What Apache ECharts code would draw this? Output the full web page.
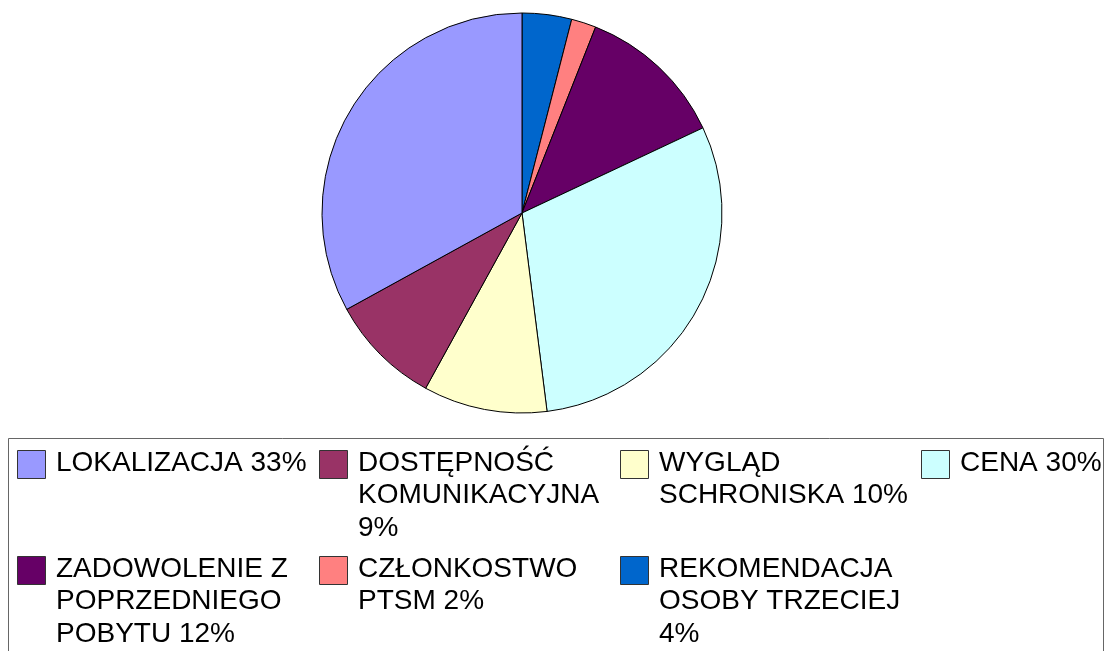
<!DOCTYPE html>
<html>
<head>
<meta charset="utf-8">
<script src="https://cdn.jsdelivr.net/npm/echarts@6/dist/echarts.min.js"></script>
<style>
  html, body { margin: 0; padding: 0; background: #fff; }
  #main { width: 1112px; height: 651px; }
</style>
</head>
<body>
<div id="main"></div>
<script>
// legend order (as in the reference)
const categories = [
  'LOKALIZACJA',
  'DOSTĘPNOŚĆ KOMUNIKACYJNA',
  'WYGLĄD SCHRONISKA',
  'CENA',
  'ZADOWOLENIE Z POPRZEDNIEGO POBYTU',
  'CZŁONKOSTWO PTSM',
  'REKOMENDACJA OSOBY TRZECIEJ'
];
const percents = [33, 9, 10, 30, 12, 2, 4];
const colors = ['#9999FF', '#993366', '#FFFFCC', '#CCFFFF', '#660066', '#FF8080', '#0066CC'];

const chart = echarts.init(document.getElementById('main'));

// pie goes clockwise from 12 o'clock, last legend item first
const pieData = categories.map((name, i) => ({
  name: name,
  value: percents[i],
  itemStyle: { color: colors[i] }
})).reverse();

// legend box drawn by hand so the swatch sits next to the first text line
const colX = [17, 319, 620, 921];
const rowY = [450, 556];
const legendEls = [{
  type: 'rect',
  shape: { x: 8.5, y: 438.5, width: 1095, height: 240 },
  style: { fill: '#fff', stroke: '#666', lineWidth: 1 },
  silent: true
}];
categories.forEach((name, i) => {
  const cx = colX[i % 4];
  const ry = rowY[Math.floor(i / 4)];
  legendEls.push({
    type: 'rect',
    shape: { x: cx + 0.5, y: ry + 0.5, width: 28, height: 28 },
    style: { fill: colors[i], stroke: '#333', lineWidth: 1 }
  });
  legendEls.push({
    type: 'text',
    x: cx + 39,
    y: ry - 3,
    style: {
      text: name + ' ' + percents[i] + '%',
      width: 262,
      overflow: 'break',
      font: '28px "Liberation Sans", Arial, sans-serif',
      lineHeight: 32.5,
      fill: '#000'
    }
  });
});

const option = {
  animation: false,
  graphic: legendEls,
  series: [
    {
      type: 'pie',
      center: [522, 213],
      radius: 200,
      startAngle: 90,
      clockwise: true,
      label: { show: false },
      labelLine: { show: false },
      emphasis: { disabled: true },
      itemStyle: { borderColor: '#000', borderWidth: 1 },
      data: pieData
    }
  ]
};
chart.setOption(option);
</script>
</body>
</html>
